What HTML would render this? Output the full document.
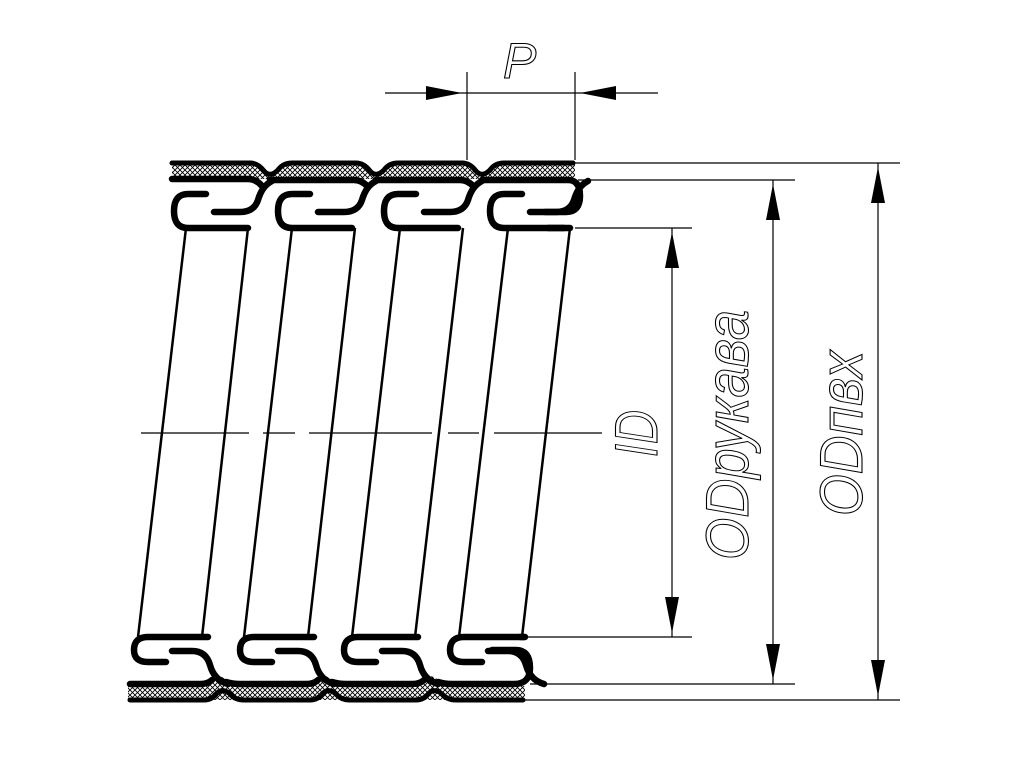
<!DOCTYPE html>
<html><head><meta charset="utf-8"><style>html,body{margin:0;padding:0;background:#fff}svg{display:block}</style></head>
<body>
<svg width="1009" height="780" viewBox="0 0 1009 780" xmlns="http://www.w3.org/2000/svg">
<defs>
<pattern id="m" width="5" height="5" patternUnits="userSpaceOnUse">
<rect width="5" height="5" fill="#fff"/>
<path d="M0,0L5,5M5,0L0,5" stroke="#000" stroke-width="0.9"/>
</pattern>
<g id="tu" fill="none" stroke="#000" stroke-width="6.5" stroke-linecap="round" stroke-linejoin="round">
<path d="M38,194 L20,194 Q6,194 6,211 Q6,228 20,228 L80,228"/>
<path d="M46,212 L72,212 Q86,212 90,200 Q94,186 104,181"/>
</g>
<g id="bu" fill="none" stroke="#000" stroke-width="6.5" stroke-linecap="round" stroke-linejoin="round">
<path d="M78,637 L18,637 Q4,637 4,650 Q4,662 18,662 L36,662"/>
<path d="M42,651 L62,651 Q76,651 80,665 Q84,680 98,684"/>
</g>
</defs>
<path d="M172,163 L250,163 Q258,163 264,171 Q270,178 278,170 Q283,163 292,163 L356,163 Q364,163 370,171 Q376,178 384,170 Q389,163 398,163 L462,163 Q470,163 476,171 Q482,178 490,170 Q495,163 504,163 L575,163 L575,179 L172,179 Z" fill="url(#m)"/>
<path d="M172,163 L250,163 Q258,163 264,171 Q270,178 278,170 Q283,163 292,163 L356,163 Q364,163 370,171 Q376,178 384,170 Q389,163 398,163 L462,163 Q470,163 476,171 Q482,178 490,170 Q495,163 504,163 L573,163" fill="none" stroke="#000" stroke-width="5" stroke-linecap="round"/>
<path d="M172,179 L248,179 Q256,179 262,186 M270,180 L354,180 Q362,180 368,187 M376,180 L460,180 Q468,180 474,187 M482,180 L568,180 Q580,180 580,196 Q580,212 566,212 L545,212" fill="none" stroke="#000" stroke-width="6.5" stroke-linecap="round"/>
<use href="#tu" x="168"/><use href="#tu" x="272"/><use href="#tu" x="378"/><use href="#tu" x="484"/>
<path d="M548,228 L570,228" stroke="#000" stroke-width="6.5" stroke-linecap="round"/>
<path d="M128,686 L200,686 Q208,686 213,679 Q219,673 226,680 Q231,686 240,686 L306,686 Q314,686 319,679 Q325,673 332,680 Q337,686 346,686 L412,686 Q420,686 425,679 Q431,673 438,680 Q443,686 452,686 L525,686 L525,700 L128,700 Z" fill="url(#m)"/>
<path d="M130,700 L204,700 Q212,700 217,693 Q223,688 230,694 Q235,700 244,700 L310,700 Q318,700 323,693 Q329,688 336,694 Q341,700 350,700 L416,700 Q424,700 429,693 Q435,688 442,694 Q447,700 456,700 L523,700" fill="none" stroke="#000" stroke-width="5" stroke-linecap="round"/>
<path d="M130,684 L200,684 Q208,684 212,680 M226,682 Q232,684 240,684 L306,684 Q314,684 318,680 M332,682 Q338,684 346,684 L412,684 Q420,684 424,680 M438,682 Q444,684 452,684 L514,684 Q530,684 530,668 Q530,650 516,650 L492,650" fill="none" stroke="#000" stroke-width="6.5" stroke-linecap="round"/>
<use href="#bu" x="130"/><use href="#bu" x="236"/><use href="#bu" x="340"/><use href="#bu" x="446"/>
<path d="M520,637 L525,637" stroke="#000" stroke-width="6.5" stroke-linecap="round"/>
<g stroke="#000" stroke-width="2.5">
<line x1="186" y1="228" x2="138" y2="637"/><line x1="248" y1="228" x2="202" y2="637"/>
<line x1="292" y1="228" x2="244" y2="637"/><line x1="355" y1="228" x2="308" y2="637"/>
<line x1="400" y1="228" x2="352" y2="637"/><line x1="463" y1="228" x2="415" y2="637"/>
<line x1="508" y1="228" x2="459" y2="637"/><line x1="570" y1="228" x2="522" y2="637"/>
</g>
<g stroke="#000" stroke-width="1.2">
<line x1="141" y1="433" x2="249" y2="433"/><line x1="263" y1="433" x2="295" y2="433"/>
<line x1="309" y1="433" x2="432" y2="433"/><line x1="448" y1="433" x2="479" y2="433"/>
<line x1="494" y1="433" x2="602" y2="433"/>
<line x1="467" y1="72" x2="467" y2="160"/><line x1="575" y1="72" x2="575" y2="160"/>
<line x1="385" y1="93" x2="658" y2="93"/>
<line x1="575" y1="163" x2="900" y2="163"/><line x1="578" y1="180" x2="795" y2="180"/>
<line x1="575" y1="228" x2="692" y2="228"/><line x1="527" y1="637" x2="692" y2="637"/>
<line x1="530" y1="684" x2="795" y2="684"/><line x1="525" y1="700" x2="900" y2="700"/>
<line x1="672" y1="228" x2="672" y2="637"/><line x1="773" y1="180" x2="773" y2="684"/>
<line x1="878" y1="163" x2="878" y2="700"/>
</g>
<g fill="#000">
<polygon points="426,86 462,93 426,100"/><polygon points="616,86 580,93 616,100"/>
<polygon points="665,268 672,232 679,268"/><polygon points="665,597 672,633 679,597"/>
<polygon points="766,220 773,184 780,220"/><polygon points="766,644 773,680 780,644"/>
<polygon points="871,203 878,167 885,203"/><polygon points="871,660 878,696 885,660"/>
</g>
<g font-family="Liberation Sans, DejaVu Sans, sans-serif" font-style="italic" fill="none" stroke="#000" stroke-width="1.1">
<text x="503" y="78" font-size="50">P</text>
<text transform="translate(657,457) rotate(-90)" font-size="60" textLength="47" lengthAdjust="spacingAndGlyphs">ID</text>
<text transform="translate(748,560) rotate(-90)" font-size="60" textLength="250" lengthAdjust="spacingAndGlyphs">ODрукава</text>
<text transform="translate(862,516) rotate(-90)" font-size="60" textLength="165" lengthAdjust="spacingAndGlyphs">ODпвх</text>
</g>
</svg>
</body></html>
